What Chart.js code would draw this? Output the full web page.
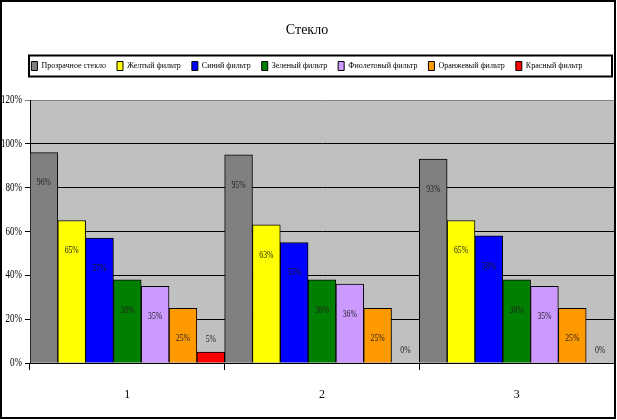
<!DOCTYPE html>
<html>
<head>
<meta charset="utf-8">
<script src="https://cdn.jsdelivr.net/npm/chart.js@4"></script>
<style>
  html, body { margin: 0; padding: 0; background: #fff; }
  #wrap { width: 617px; height: 420px; position: relative; }
</style>
</head>
<body>
<div id="wrap"><canvas id="glassChart"></canvas></div>
<script>
// --- DATA ---
const groups = ['1', '2', '3'];
const seriesNames = ['Прозрачное стекло', 'Желтый фильтр', 'Синий фильтр', 'Зеленый фильтр',
                     'Фиолетовый фильтр', 'Оранжевый фильтр', 'Красный фильтр'];
const clearGlass  = [96, 95, 93];
const yellowGlass = [65, 63, 65];
const blueGlass   = [57, 55, 58];
const greenGlass  = [38, 38, 38];
const violetGlass = [35, 36, 35];
const orangeGlass = [25, 25, 25];
const redGlass    = [5, 0, 0];
const yTicks = [0, 20, 40, 60, 80, 100, 120];

const seriesValues = [clearGlass, yellowGlass, blueGlass, greenGlass, violetGlass, orangeGlass, redGlass];
const seriesColors = ['#808080', '#FFFF00', '#0000FF', '#008000', '#CC99FF', '#FF9900', '#FF0000'];

const FONT = "'Liberation Serif', 'Times New Roman', serif";
Chart.defaults.font.family = FONT;
Chart.defaults.color = '#000';

// draw text squeezed horizontally, like the narrow font in the original
function narrowText(ctx, text, x, y, sx) {
    ctx.save();
    ctx.translate(x, y);
    ctx.scale(sx, 1);
    ctx.fillText(text, 0, 0);
    ctx.restore();
}

// grey plot area + outer frame + frame around legend
const framePlugin = {
    id: 'frames',
    beforeDraw(chart) {
        const {ctx, chartArea: a} = chart;
        ctx.save();
        ctx.fillStyle = '#C0C0C0';
        ctx.fillRect(a.left, a.top, a.right - a.left, a.bottom - a.top);
        ctx.restore();
    },
    afterDraw(chart) {
        const {ctx, chartArea: a} = chart;
        ctx.save();
        ctx.strokeStyle = '#000';
        ctx.lineWidth = 2;
        ctx.strokeRect(1, 1, chart.width - 3, chart.height - 3);
        const boxes = chart.legend.legendHitBoxes;
        if (boxes && boxes.length) {
            const top = Math.min(...boxes.map(b => b.top));
            const bottom = Math.max(...boxes.map(b => b.top + b.height));
            ctx.strokeRect(a.left - 1, top - 6, chart.width - a.left - 4, bottom - top + 12);
        }
        // y tick labels, squeezed
        const y = chart.scales.y;
        ctx.fillStyle = '#000';
        ctx.font = "12px " + FONT;
        ctx.textAlign = 'right';
        ctx.textBaseline = 'middle';
        yTicks.forEach(v => narrowText(ctx, v + '%', a.left - 8, y.getPixelForValue(v), 0.75));
        ctx.restore();
    }
};

// percentage labels on the bars
const valueLabels = {
    id: 'valueLabels',
    afterDatasetsDraw(chart) {
        const {ctx} = chart;
        ctx.save();
        ctx.font = "11px " + FONT;
        ctx.fillStyle = '#222';
        ctx.textAlign = 'center';
        ctx.textBaseline = 'middle';
        chart.data.datasets.forEach((ds, i) => {
            chart.getDatasetMeta(i).data.forEach((bar, j) => {
                const h = bar.base - bar.y;
                const y = h > 40 ? bar.y + 30 : bar.y - 13;
                narrowText(ctx, ds.data[j] + '%', bar.x, y, 0.7);
            });
        });
        ctx.restore();
    }
};

const ctx = document.getElementById('glassChart');
new Chart(ctx, {
    type: 'bar',
    data: {
        labels: groups,
        datasets: seriesNames.map((name, i) => ({
            label: name,
            data: seriesValues[i],
            backgroundColor: seriesColors[i],
            borderColor: '#000',
            borderWidth: 1,
            categoryPercentage: 1,
            barPercentage: 1
        }))
    },
    options: {
        responsive: true,
        maintainAspectRatio: false,
        animation: false,
        layout: { padding: { left: 0, right: 3, top: 0, bottom: 3 } },
        scales: {
            y: {
                min: 0,
                max: 120,
                afterBuildTicks: scale => { scale.ticks = yTicks.map(v => ({ value: v })); },
                afterFit: scale => { scale.width = 30; },
                ticks: { display: false },
                grid: {
                    color: c => (c.tick && c.tick.value === 120) ? '#808080' : '#000',
                    lineWidth: 1,
                    tickLength: 5
                },
                border: { color: '#000', width: 1 }
            },
            x: {
                afterFit: scale => { scale.height = 54; },
                ticks: { padding: 18, font: { size: 12 } },
                grid: {
                    offset: true,
                    drawOnChartArea: false,
                    color: '#000',
                    tickLength: 7
                },
                border: { color: '#000', width: 1 }
            }
        },
        plugins: {
            title: {
                display: true,
                text: 'Стекло',
                color: '#000',
                font: { size: 14, weight: 'normal' },
                padding: { top: 22, bottom: 11.7 }
            },
            subtitle: {
                display: true,
                text: ' ',
                weight: 500,
                font: { size: 10 },
                padding: { top: 1, bottom: 6.5 }
            },
            legend: {
                position: 'top',
                labels: {
                    boxWidth: 6,
                    boxHeight: 9,
                    padding: 11,
                    color: '#000',
                    font: { size: 8 }
                }
            },
            tooltip: { enabled: false }
        }
    },
    plugins: [framePlugin, valueLabels]
});
</script>
</body>
</html>
